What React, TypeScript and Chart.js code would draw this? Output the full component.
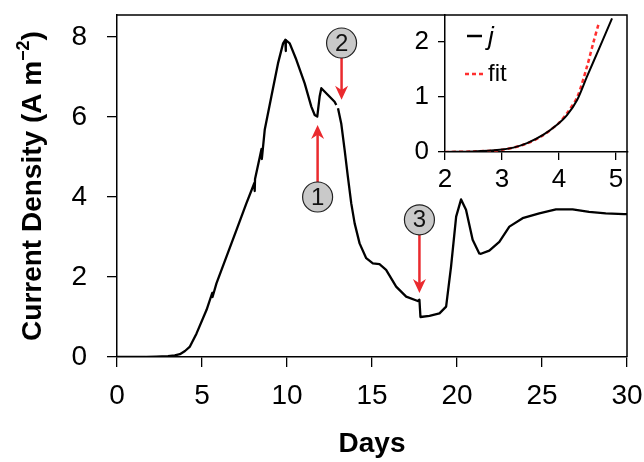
import React, { useEffect, useRef } from "react";
import { Chart, registerables } from "chart.js";

Chart.register(...registerables);

const FONT = "'Liberation Sans Narrow', 'Arial Narrow', 'Liberation Sans', Arial, sans-serif";

// ---- main series (days vs current density, A m^-2) ----
const days: number[] = [
  0, 1, 1.65, 1.7, 1.75, 2.3, 3.0, 3.4, 3.7, 4.0, 4.29, 4.68, 5.27, 5.6, 5.62, 5.85, 6.44, 7.03,
  7.61, 8.08, 8.1, 8.12, 8.4, 8.5, 8.52, 8.69, 9.08, 9.47, 9.77, 9.9, 9.92, 9.94, 10.16, 10.55,
  11.04, 11.43, 11.63, 11.78, 11.92, 12.02, 12.41, 12.8, 12.9, 12.97, 13.0, 13.19, 13.39, 13.58,
  13.78, 13.98, 14.27, 14.66, 15.05, 15.44, 15.83, 16.42, 17.01, 17.69, 17.79, 17.85, 18.38, 18.97,
  19.36, 19.65, 19.95, 20.24, 20.53, 20.92, 21.31, 21.41, 21.9, 22.49, 23.08, 23.86, 24.84, 25.82,
  26.8, 27.77, 28.75, 29.83, 30,
];
const current: (number | null)[] = [
  0, 0, 0, -0.08, 0, 0.01, 0.02, 0.04, 0.07, 0.15, 0.26, 0.59, 1.18, 1.6, 1.5, 1.84, 2.51, 3.18,
  3.84, 4.35, 4.15, 4.45, 5.0, 5.2, 4.95, 5.68, 6.51, 7.34, 7.84, 7.93, 7.65, 7.92, 7.84, 7.43,
  6.84, 6.26, 6.05, 6.01, 6.51, 6.72, 6.55, 6.38, 6.3, null, 6.22, 5.84, 5.18, 4.51,
  3.84, 3.34, 2.84, 2.47, 2.34, 2.32, 2.18, 1.76, 1.51, 1.4, 1.43, 1.0, 1.03, 1.09,
  1.26, 2.26, 3.51, 3.94, 3.68, 2.93, 2.59, 2.58, 2.66, 2.88, 3.26, 3.47, 3.59, 3.69,
  3.69, 3.63, 3.59, 3.57, 3.57,
];
const xTicks = [0, 5, 10, 15, 20, 25, 30];
const yTicks = [0, 2, 4, 6, 8];

// ---- inset: early growth j and exponential fit ----
const insetX: number[] = [2, 2.5, 2.96, 3.2, 3.44, 3.72, 3.96, 4.14, 4.32, 4.49, 4.72, 4.93];
const insetJ: number[] = [0, 0.01, 0.04, 0.08, 0.16, 0.31, 0.49, 0.67, 0.95, 1.37, 1.92, 2.43];
const fitX: number[] = [2, 2.5, 3, 3.4, 3.7, 4.0, 4.15, 4.32, 4.49, 4.6, 4.7];
const fitY: number[] = [0, 0.01, 0.04, 0.14, 0.29, 0.53, 0.72, 1.0, 1.55, 1.98, 2.35];
const insetXTicks = [2, 3, 4, 5];
const insetYTicks = [0, 1, 2];

// ---- numbered event markers: day, circle level, arrow start, arrow tip ----
const markerLabels = ["1", "2", "3"];
const markerDays = [11.8, 13.21, 17.79];
const markerCircle = [4.0, 7.85, 3.43];
const markerFrom = [4.35, 7.48, 3.05];
const markerTo = [5.8, 6.43, 1.6];

const RED = "#ea2a2e";

const framePlugin = {
  id: "frame",
  afterDraw(chart: any) {
    const { ctx, chartArea: a } = chart;
    ctx.save();
    ctx.strokeStyle = "#000";
    ctx.lineWidth = 1.5;
    ctx.beginPath();
    ctx.moveTo(a.left, a.top);
    ctx.lineTo(a.right, a.top);
    ctx.lineTo(a.right, a.bottom);
    ctx.stroke();
    ctx.restore();
  },
};

const yTitlePlugin = {
  id: "ytitle",
  afterDraw(chart: any) {
    const { ctx, chartArea: a } = chart;
    const main = "Current Density (A m";
    const sup = "\u22122";
    const close = ")";
    ctx.save();
    ctx.fillStyle = "#000";
    ctx.translate(41, (a.top + a.bottom) / 2);
    ctx.rotate(-Math.PI / 2);
    ctx.textBaseline = "alphabetic";
    ctx.font = `bold 28px ${FONT}`;
    const w1 = ctx.measureText(main).width;
    const w3 = ctx.measureText(close).width;
    ctx.font = `bold 18px ${FONT}`;
    const w2 = ctx.measureText(sup).width;
    let x = -(w1 + w2 + w3) / 2;
    ctx.font = `bold 28px ${FONT}`;
    ctx.fillText(main, x, 0);
    x += w1;
    ctx.font = `bold 18px ${FONT}`;
    ctx.fillText(sup, x, -12);
    x += w2;
    ctx.font = `bold 28px ${FONT}`;
    ctx.fillText(close, x, 0);
    ctx.restore();
  },
};

const markerPlugin = {
  id: "markers",
  afterDatasetsDraw(chart: any) {
    const { ctx, scales } = chart;
    const xs = scales.x;
    const ys = scales.y;
    ctx.save();
    markerLabels.forEach((lab, i) => {
      const cx = xs.getPixelForValue(markerDays[i]);
      const cy = ys.getPixelForValue(markerCircle[i]);
      const y0 = ys.getPixelForValue(markerFrom[i]);
      const y1 = ys.getPixelForValue(markerTo[i]);
      const dir = y1 > y0 ? 1 : -1;
      const headLen = 14;
      ctx.strokeStyle = RED;
      ctx.lineWidth = 2.5;
      ctx.beginPath();
      ctx.moveTo(cx, y0);
      ctx.lineTo(cx, y1 - dir * headLen * 0.6);
      ctx.stroke();
      ctx.fillStyle = RED;
      ctx.beginPath();
      ctx.moveTo(cx, y1);
      ctx.lineTo(cx - 6.5, y1 - dir * headLen);
      ctx.lineTo(cx, y1 - dir * headLen * 0.7);
      ctx.lineTo(cx + 6.5, y1 - dir * headLen);
      ctx.closePath();
      ctx.fill();
      ctx.beginPath();
      ctx.arc(cx, cy, 15, 0, Math.PI * 2);
      ctx.fillStyle = "#c9c9c9";
      ctx.fill();
      ctx.lineWidth = 1.2;
      ctx.strokeStyle = "#222";
      ctx.stroke();
      ctx.fillStyle = "#111";
      ctx.font = `24px ${FONT}`;
      ctx.textAlign = "center";
      ctx.textBaseline = "middle";
      ctx.fillText(lab, cx, cy + 1);
    });
    ctx.restore();
  },
};

const insetLegendPlugin = {
  id: "insetLegend",
  afterDraw(chart: any) {
    const { ctx, chartArea: a } = chart;
    ctx.save();
    const lx = a.left + 22;
    ctx.strokeStyle = "#000";
    ctx.lineWidth = 2.5;
    ctx.setLineDash([]);
    ctx.beginPath();
    ctx.moveTo(lx, a.top + 21);
    ctx.lineTo(lx + 15, a.top + 21);
    ctx.stroke();
    ctx.fillStyle = "#000";
    ctx.textBaseline = "middle";
    ctx.font = `italic 26px ${FONT}`;
    ctx.fillText("j", lx + 21, a.top + 23);
    ctx.strokeStyle = "#ff2e2e";
    ctx.lineWidth = 2.5;
    ctx.setLineDash([4, 3]);
    ctx.beginPath();
    ctx.moveTo(lx - 2, a.top + 59);
    ctx.lineTo(lx + 16, a.top + 59);
    ctx.stroke();
    ctx.setLineDash([]);
    ctx.font = `24px ${FONT}`;
    ctx.fillText("fit", lx + 21, a.top + 59);
    ctx.restore();
  },
};

export default function App() {
  const mainRef = useRef<HTMLCanvasElement>(null);
  const insetRef = useRef<HTMLCanvasElement>(null);

  useEffect(() => {
    document.body.style.margin = "0";
    const tickFont = { family: FONT, size: 28 };
    const main = new Chart(mainRef.current!, {
      type: "line",
      data: {
        datasets: [
          {
            data: days.map((d, i) => ({ x: d, y: current[i] })) as any,
            borderColor: "#000",
            borderWidth: 2.3,
            pointRadius: 0,
            tension: 0,
            spanGaps: false,
            borderJoinStyle: "round",
          },
        ],
      },
      options: {
        animation: false,
        responsive: false,
        maintainAspectRatio: false,
        layout: { padding: { top: 15, right: 17, left: 0, bottom: 0 } },
        plugins: { legend: { display: false }, tooltip: { enabled: false } },
        scales: {
          x: {
            type: "linear",
            min: 0,
            max: 30,
            afterBuildTicks: (s: any) => {
              s.ticks = xTicks.map((v) => ({ value: v }));
            },
            afterFit: (s: any) => {
              s.height = 105;
              s.paddingLeft = 0;
              s.paddingRight = 0;
            },
            grid: { drawOnChartArea: false, tickLength: 10, color: "#000", lineWidth: 1.3 },
            border: { color: "#000", width: 1.5 },
            ticks: { color: "#000", font: tickFont, padding: 12, maxRotation: 0 },
            title: {
              display: true,
              text: "Days",
              color: "#000",
              font: { family: FONT, size: 28, weight: "bold" },
              padding: { top: 0, bottom: 1 },
            },
          },
          y: {
            type: "linear",
            min: 0,
            max: 8.55,
            afterBuildTicks: (s: any) => {
              s.ticks = yTicks.map((v) => ({ value: v }));
            },
            afterFit: (s: any) => {
              s.width = 117;
              s.paddingTop = 0;
              s.paddingBottom = 0;
            },
            grid: { drawOnChartArea: false, tickLength: 10, color: "#000", lineWidth: 1.3 },
            border: { color: "#000", width: 1.5 },
            ticks: { color: "#000", font: tickFont, padding: 20 },
          },
        },
      } as any,
      plugins: [framePlugin, yTitlePlugin, markerPlugin],
    });

    const insetFont = { family: FONT, size: 26 };
    const inset = new Chart(insetRef.current!, {
      type: "line",
      data: {
        datasets: [
          {
            data: insetX.map((v, i) => ({ x: v, y: insetJ[i] })),
            borderColor: "#000",
            borderWidth: 2,
            pointRadius: 0,
            tension: 0.3,
          },
          {
            data: fitX.map((v, i) => ({ x: v, y: fitY[i] })),
            borderColor: "#ff2e2e",
            borderWidth: 2.5,
            borderDash: [4, 3],
            pointRadius: 0,
            tension: 0.3,
          },
        ],
      },
      options: {
        animation: false,
        responsive: false,
        maintainAspectRatio: false,
        layout: { padding: { top: 15, right: 16, left: 0, bottom: 0 } },
        plugins: { legend: { display: false }, tooltip: { enabled: false } },
        scales: {
          x: {
            type: "linear",
            min: 2,
            max: 5.21,
            afterBuildTicks: (s: any) => {
              s.ticks = insetXTicks.map((v) => ({ value: v }));
            },
            afterFit: (s: any) => {
              s.height = 48;
              s.paddingLeft = 0;
              s.paddingRight = 0;
            },
            grid: { drawOnChartArea: false, tickLength: 8, color: "#000", lineWidth: 1.3 },
            border: { color: "#000", width: 1.5 },
            ticks: { color: "#000", font: insetFont, padding: 4, maxRotation: 0 },
          },
          y: {
            type: "linear",
            min: 0,
            max: 2.49,
            afterBuildTicks: (s: any) => {
              s.ticks = insetYTicks.map((v) => ({ value: v }));
            },
            afterFit: (s: any) => {
              s.width = 45;
              s.paddingTop = 0;
              s.paddingBottom = 0;
            },
            grid: { drawOnChartArea: false, tickLength: 7, color: "#000", lineWidth: 1.3 },
            border: { color: "#000", width: 1.5 },
            ticks: { color: "#000", font: insetFont, padding: 9 },
          },
        },
      } as any,
      plugins: [insetLegendPlugin],
    });

    return () => {
      main.destroy();
      inset.destroy();
    };
  }, []);

  return (
    <div style={{ position: "relative", width: 644, height: 462, background: "#fff" }}>
      <canvas
        ref={mainRef}
        width={644}
        height={462}
        style={{ position: "absolute", left: 0, top: 0, width: 644, height: 462 }}
      />
      <canvas
        ref={insetRef}
        width={244}
        height={200}
        style={{ position: "absolute", left: 400, top: 0, width: 244, height: 200 }}
      />
    </div>
  );
}
